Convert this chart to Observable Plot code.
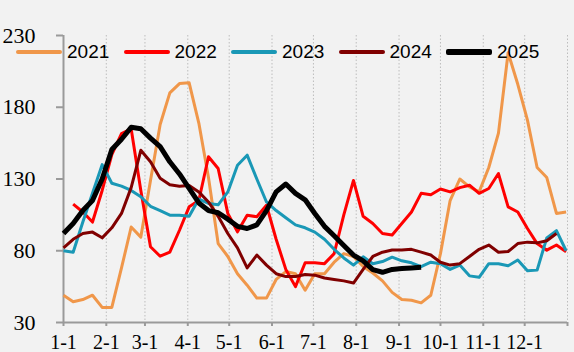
<!DOCTYPE html>
<html>
<head>
<meta charset="utf-8">
<script src="https://cdn.jsdelivr.net/npm/d3@7"></script>
<script src="https://cdn.jsdelivr.net/npm/@observablehq/plot@0.6"></script>
<style>
  html, body { margin: 0; padding: 0; background: #f2f2f2; }
  #wrap { position: relative; width: 574px; height: 352px; overflow: hidden; background: #f2f2f2; }
  #legend { position: absolute; left: 16px; top: 41px; display: flex; font-family: "Liberation Sans", Arial, sans-serif; font-size: 19px; color: #000; }
  .item { display: flex; align-items: center; width: 107.5px; height: 22px; }
  .sw { width: 46px; margin-right: 5px; border-radius: 2px; }
</style>
</head>
<body>
<div id="wrap"><div id="legend"></div></div>
<script>
// ---- data (weekly readings, week index 0 = 1-1) ----
const years = ["2021", "2022", "2023", "2024", "2025"];
const v2021 = [49, 44.5, 46, 49, 40.5, 40.5, 68, 96.5, 89.5, 129, 168, 190, 196.5, 197, 169, 131, 85, 76, 64, 56, 47, 47, 60, 65.5, 64, 52.5, 64, 64, 72, 78, 76, 69, 64.5, 59, 51, 46, 45.5, 43.7, 49, 78, 115, 130, 124.5, 121, 138, 162, 218, 196, 171, 138, 131, 106, 107];
const v2022 = [null, 112.5, 107, 100, 122, 147, 161.7, 165, 122, 82.8, 76.2, 79, 94.3, 110.6, 115, 145.5, 137.3, 106, 93.2, 104.8, 103.7, 111.7, 88, 67, 55, 71.6, 71.6, 71, 78, 105, 129, 104, 99, 92, 91, 99, 107, 120, 119, 123, 121, 124, 125.7, 120, 123.4, 133.8, 110.6, 107, 95.5, 85, 80.4, 84, 79.3];
const v2023 = [80, 79, 100, 120, 140, 127, 125, 122, 117.6, 111, 108, 104.8, 104.8, 104, 116, 113, 112, 121, 139.6, 146.6, 130, 114, 108, 103, 98, 96, 93, 88, 81, 75, 70, 75.8, 71, 72.5, 75.5, 73, 71.6, 69, 72, 71, 67, 70, 62.5, 61.5, 71, 71, 69.5, 73.5, 66, 66.5, 89, 94, 80];
const v2024 = [82, 88, 92, 93, 89, 96, 106, 124, 150, 142, 130.6, 126, 125, 125.5, 121, 114, 104, 92, 82, 68, 77, 70, 64, 62, 62, 63.5, 63, 61, 60, 59, 57.5, 67, 76, 79, 80.5, 80.5, 81, 79, 77, 72, 70, 71, 76, 81, 84, 79, 79.5, 85, 86, 85.5, 87, 92];
const v2025 = [92, 99, 108, 115, 130, 150.5, 157.7, 166, 165, 158.5, 152.5, 142, 133.5, 123.4, 113.3, 108, 106.5, 102, 97, 95.5, 98, 108, 121, 126.5, 120, 115.5, 106, 97, 90.5, 83.7, 77, 73, 66.8, 65, 67, 67.6, 68, 68.5];
const series = [v2021, v2022, v2023, v2024, v2025];
const monthLabels = ["1-1", "2-1", "3-1", "4-1", "5-1", "6-1", "7-1", "8-1", "9-1", "10-1", "11-1", "12-1"];
const monthDays = [0, 31, 59, 90, 120, 151, 181, 212, 243, 273, 304, 334];
const yearEnd = 365;
const yTicks = [30, 80, 130, 180, 230];

// ---- styles ----
const colors = ["#F0974A", "#FF0000", "#1A98B6", "#800000", "#000000"];
const widths = [3, 3, 3, 3, 5];

const rows = [];
series.forEach((vals, s) => vals.forEach((v, i) => {
  if (v != null) rows.push({year: years[s], day: i * 7, value: v});
}));
const labelOf = new Map(monthDays.map((d, i) => [d, monthLabels[i]]));
const tickDays = [...monthDays, yearEnd];

const axisColor = "#9a9a9a";
const chart = Plot.plot({
  width: 574,
  height: 352,
  marginLeft: 63,
  marginRight: 7,
  marginTop: 35,
  marginBottom: 30,
  style: {background: "transparent", overflow: "visible"},
  x: {type: "linear", domain: [0, yearEnd]},
  y: {domain: [30, 230]},
  color: {domain: years, range: colors},
  marks: [
    Plot.ruleX(tickDays.slice(1), {stroke: "#bdbdbd", strokeWidth: 1, strokeDasharray: "1.5,2"}),
    Plot.axisY({ticks: yTicks, tickSize: 7, tickPadding: 21, stroke: axisColor, fill: "#000", strokeWidth: 2,
      fontSize: 22, fontFamily: "Liberation Serif", label: null}),
    Plot.axisX({ticks: tickDays, tickFormat: d => labelOf.get(d) ?? "", tickSize: 4, tickPadding: 8,
      stroke: axisColor, fill: "#000", strokeWidth: 2, fontSize: 20, fontFamily: "Liberation Serif", label: null}),
    Plot.ruleX([0], {y1: 30, y2: 230, stroke: axisColor, strokeWidth: 2}),
    Plot.ruleY([30], {x1: 0, x2: yearEnd, stroke: axisColor, strokeWidth: 2}),
    ...years.map((yr, s) => Plot.line(rows.filter(r => r.year === yr), {
      x: "day", y: "value", stroke: colors[s], strokeWidth: widths[s],
      strokeLinejoin: "round", strokeLinecap: "butt"
    }))
  ]
});
document.getElementById("wrap").appendChild(chart);

const legend = document.getElementById("legend");
years.forEach((yr, s) => {
  const it = document.createElement("div");
  it.className = "item";
  const sw = document.createElement("div");
  sw.className = "sw";
  sw.style.height = (widths[s] + 1) + "px";
  sw.style.background = colors[s];
  const tx = document.createElement("span");
  tx.textContent = yr;
  it.appendChild(sw);
  it.appendChild(tx);
  legend.appendChild(it);
});
</script>
</body>
</html>
